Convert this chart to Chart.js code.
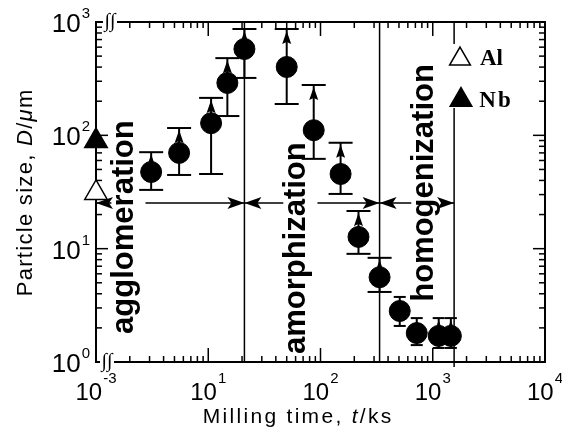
<!DOCTYPE html>
<html>
<head>
<meta charset="utf-8">
<script src="https://cdn.jsdelivr.net/npm/chart.js@4.4.0/dist/chart.umd.min.js"></script>
<style>
  html, body { margin: 0; padding: 0; background: #fff; }
</style>
</head>
<body>
<canvas id="plot" width="562" height="430"></canvas>
<script>
// milling time t (ks) and particle size D (um)
const times     = [3.1, 5.5, 10.6, 14.8, 21, 50, 87, 151, 218, 336, 508, 720, 1130, 1450];
const sizes     = [47.5, 70, 128, 290, 578, 401, 111, 45.6, 12.7, 5.6, 2.82, 1.8, 1.7, 1.7];
const sizesLow  = [33, 44.7, 45.6, 148, 321, 189, 62, 30.4, 9.0, 4.15, 2.08, 1.41, 1.33, 1.33];
const sizesHigh = [71, 116, 214, 480, 867, 867, 278, 86, 21.5, 8.3, 3.75, 2.44, 2.44, 2.44];

// starting powders (t = 0, drawn at the axis break)
const startTime = 1e-3;
const alSize = 31;
const nbSize = 89;

// milling stages: where each one ends (ks), names, label anchors
const stageEnds   = [21, 336, 1550];
const stageNames  = ['agglomeration', 'amorphization', 'homogenization'];
const stageLabelT = [2.14, 72.8, 1005];
const stageLabelD = [15.5, 10.1, 38];
const stageArrowD = 25.3;

const xMin = 1, xMax = 1e4, yMin = 1, yMax = 1e3;
const xTicks   = [1, 10, 100, 1000, 10000];
const xTickExp = ['-3', '1', '2', '3', '4'];
const yTicks   = [1, 10, 100, 1000];
const yTickExp = ['0', '1', '2', '3'];

const SANS = '"Liberation Sans", Arial, Helvetica, sans-serif';
const SERIF = '"Liberation Serif", "Times New Roman", serif';

function drawRich(ctx, parts, x, y, spacing) {
  // centred on x, baseline y; char by char so the letter spacing works
  const glyphs = [];
  let total = 0;
  parts.forEach(p => {
    ctx.font = p.font;
    for (const ch of p.text) {
      const w = ctx.measureText(ch).width;
      glyphs.push({ ch, font: p.font, w });
      total += w + spacing;
    }
  });
  total -= spacing;
  let cx = x - total / 2;
  ctx.textAlign = 'left';
  ctx.textBaseline = 'alphabetic';
  glyphs.forEach(g => {
    ctx.font = g.font;
    ctx.fillText(g.ch, cx, y);
    cx += g.w + spacing;
  });
}

function drawPow(ctx, exp, x, y, big, small, raise, align) {
  ctx.font = big + 'px ' + SANS;
  const wb = ctx.measureText('10').width;
  ctx.font = small + 'px ' + SANS;
  const ws = ctx.measureText(exp).width;
  const x0 = align === 'right' ? x - wb - ws - 1 : x - (wb + ws + 1) / 2;
  ctx.textAlign = 'left';
  ctx.textBaseline = 'alphabetic';
  ctx.font = big + 'px ' + SANS;
  ctx.fillText('10', x0, y);
  ctx.font = small + 'px ' + SANS;
  ctx.fillText(exp, x0 + wb + 1, y - raise);
}

function arrowHead(ctx, tipX, y, dir) {
  // dir -1 points left, +1 points right
  const len = 17, half = 6, notch = 4;
  ctx.beginPath();
  ctx.moveTo(tipX, y);
  ctx.lineTo(tipX - dir * len, y - half);
  ctx.lineTo(tipX - dir * (len - notch), y);
  ctx.lineTo(tipX - dir * len, y + half);
  ctx.closePath();
  ctx.fill();
}

function triangle(ctx, x, y, r, filled) {
  ctx.beginPath();
  ctx.moveTo(x, y - r);
  ctx.lineTo(x + r * Math.sin(2 * Math.PI / 3), y + r / 2);
  ctx.lineTo(x - r * Math.sin(2 * Math.PI / 3), y + r / 2);
  ctx.closePath();
  ctx.fillStyle = filled ? '#000' : '#fff';
  ctx.fill();
  ctx.lineWidth = 1.5;
  ctx.strokeStyle = '#000';
  ctx.stroke();
}

const decorations = {
  id: 'decorations',
  beforeDatasetsDraw(chart) {
    const ctx = chart.ctx;
    const xs = chart.scales.x, ys = chart.scales.y;
    const { left, right, top, bottom } = chart.chartArea;
    ctx.save();
    ctx.strokeStyle = '#000';
    ctx.fillStyle = '#000';

    // stage boundaries
    ctx.lineWidth = 1.5;
    stageEnds.forEach((t, i) => {
      const px = xs.getPixelForValue(t);
      ctx.beginPath();
      ctx.moveTo(px, top);
      ctx.lineTo(px, i === stageEnds.length - 1 ? bottom + 5 : bottom);
      ctx.stroke();
    });

    // stage arrows
    const ay = ys.getPixelForValue(stageArrowD);
    const starts = [xMin].concat(stageEnds.slice(0, -1));
    ctx.lineWidth = 1.5;
    starts.forEach((t0, i) => {
      ctx.beginPath();
      ctx.moveTo(xs.getPixelForValue(t0), ay);
      ctx.lineTo(xs.getPixelForValue(stageEnds[i]), ay);
      ctx.stroke();
    });

    // stage names, vertical, with a gap cut in the arrow
    const fs = 31;
    stageNames.forEach((name, i) => {
      const bx = xs.getPixelForValue(stageLabelT[i]);
      const cy = ys.getPixelForValue(stageLabelD[i]);
      ctx.fillStyle = '#fff';
      ctx.fillRect(bx - 0.7 * fs, ay - 3, 1.1 * fs, 6);
      ctx.fillStyle = '#000';
      ctx.save();
      ctx.translate(bx, cy);
      ctx.rotate(-Math.PI / 2);
      ctx.font = 'bold ' + fs + 'px ' + SANS;
      ctx.textAlign = 'center';
      ctx.textBaseline = 'alphabetic';
      ctx.fillText(name, 0, 0);
      ctx.restore();
    });
    starts.forEach((t0, i) => {
      arrowHead(ctx, xs.getPixelForValue(t0), ay, -1);
      arrowHead(ctx, xs.getPixelForValue(stageEnds[i]), ay, 1);
    });

    // frame and inward ticks
    ctx.lineWidth = 2;
    ctx.strokeRect(left, top, right - left, bottom - top);
    ctx.lineWidth = 1.5;
    const tick = (x1, y1, x2, y2) => {
      ctx.beginPath(); ctx.moveTo(x1, y1); ctx.lineTo(x2, y2); ctx.stroke();
    };
    for (let d = 0; d < 4; d++) {
      for (let k = 1; k < 10; k++) {
        const px = xs.getPixelForValue(k * Math.pow(10, d));
        const len = k === 1 ? 14 : 6;
        tick(px, bottom, px, bottom - len);
        tick(px, top, px, top + len);
      }
    }
    for (let d = 0; d < 3; d++) {
      for (let k = 1; k < 10; k++) {
        const py = ys.getPixelForValue(k * Math.pow(10, d));
        const len = k === 1 ? 12 : 6;
        tick(left, py, left + len, py);
        tick(right, py, right - len, py);
      }
    }

    // axis break marks
    ctx.fillStyle = '#fff';
    ctx.fillRect(left + 7, top - 3, 14, 6);
    ctx.fillRect(left + 4, bottom - 3, 14, 6);
    ctx.fillStyle = '#000';
    ctx.font = 'italic 20px ' + SERIF;
    ctx.textAlign = 'center';
    ctx.textBaseline = 'middle';
    ctx.fillText('\u222B\u222B', left + 14, top);
    ctx.fillText('\u222B\u222B', left + 11, bottom);

    // tick labels
    xTicks.forEach((v, i) => {
      drawPow(ctx, xTickExp[i], xs.getPixelForValue(v), bottom + 38, 24, 15, 17, 'center');
    });
    yTicks.forEach((v, i) => {
      drawPow(ctx, yTickExp[i], left - 6, ys.getPixelForValue(v) + 10, 26, 15, 14, 'right');
    });

    // axis titles
    drawRich(ctx, [
      { text: 'Milling time, ', font: '21px ' + SANS },
      { text: 't', font: 'italic 21px ' + SANS },
      { text: '/ks', font: '21px ' + SANS }
    ], 297, 423, 2.3);
    ctx.save();
    ctx.translate(32, 193);
    ctx.rotate(-Math.PI / 2);
    drawRich(ctx, [
      { text: 'Particle size, ', font: '22px ' + SANS },
      { text: 'D', font: 'italic 22px ' + SANS },
      { text: '/', font: '22px ' + SANS },
      { text: '\u03BC', font: 'italic 22px ' + SANS },
      { text: 'm', font: '22px ' + SANS }
    ], 0, 0, 1.3);
    ctx.restore();

    // legend box
    ctx.fillStyle = '#fff';
    ctx.fillRect(right - 98, top + 22, 80, 64);
    triangle(ctx, right - 85, top + 37, 12, false);
    triangle(ctx, right - 84, top + 78, 12.5, true);
    ctx.fillStyle = '#000';
    ctx.font = 'bold 23px ' + SERIF;
    ctx.textAlign = 'left';
    ctx.textBaseline = 'alphabetic';
    ctx.fillText('Al', right - 65, top + 43);
    drawRich(ctx, [{ text: 'Nb', font: 'bold 23px ' + SERIF }], right - 50, top + 85, 2);

    // error bars with upward arrows
    ctx.strokeStyle = '#000';
    ctx.fillStyle = '#000';
    times.forEach((t, i) => {
      const px = xs.getPixelForValue(t);
      const yl = ys.getPixelForValue(sizesLow[i]);
      const yh = ys.getPixelForValue(sizesHigh[i]);
      const half = i < 10 ? 12 : 6;
      ctx.lineWidth = 2;
      tick(px, yl, px, yh);
      tick(px - half, yl, px + half, yl);
      tick(px - half, yh, px + half, yh);
      ctx.beginPath();
      ctx.moveTo(px, yh + 2);
      ctx.lineTo(px - 4.5, yh + 15);
      ctx.lineTo(px, yh + 13);
      ctx.lineTo(px + 4.5, yh + 15);
      ctx.closePath();
      ctx.fill();
    });

    ctx.restore();
  }
};

const startX = Math.max(startTime, xMin);

new Chart(document.getElementById('plot').getContext('2d'), {
  type: 'scatter',
  data: {
    datasets: [
      {
        label: 'Al-Nb',
        data: times.map((t, i) => ({ x: t, y: sizes[i] })),
        pointStyle: 'circle',
        pointRadius: 10.5,
        backgroundColor: '#000',
        borderColor: '#000',
        borderWidth: 1,
        clip: false
      },
      {
        label: 'Al',
        data: [{ x: startX, y: alSize }],
        pointStyle: 'triangle',
        pointRadius: 13,
        backgroundColor: '#fff',
        borderColor: '#000',
        borderWidth: 1.5,
        clip: false
      },
      {
        label: 'Nb',
        data: [{ x: startX, y: nbSize }],
        pointStyle: 'triangle',
        pointRadius: 13,
        backgroundColor: '#000',
        borderColor: '#000',
        borderWidth: 1.5,
        clip: false
      }
    ]
  },
  options: {
    responsive: false,
    animation: false,
    devicePixelRatio: 1,
    layout: { padding: { left: 96, right: 17, top: 22, bottom: 68 } },
    plugins: { legend: { display: false }, tooltip: { enabled: false } },
    scales: {
      x: { type: 'logarithmic', min: xMin, max: xMax, display: false },
      y: { type: 'logarithmic', min: yMin, max: yMax, display: false }
    }
  },
  plugins: [decorations]
});
</script>
</body>
</html>
